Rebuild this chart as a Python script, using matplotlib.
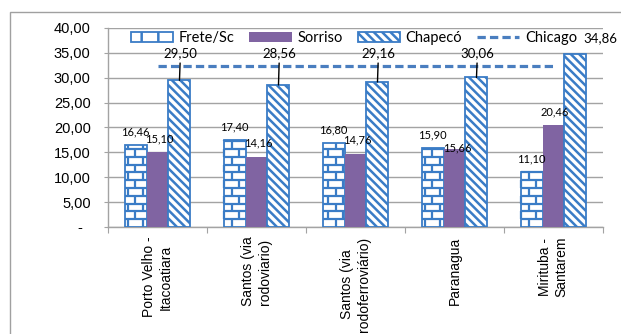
import matplotlib
matplotlib.use('Agg')
import matplotlib.pyplot as plt
import numpy as np
from matplotlib.patches import Rectangle, Patch
from matplotlib.lines import Line2D
from matplotlib.collections import LineCollection
from matplotlib.ticker import FuncFormatter

# ---------------- data ----------------
categories = ["Porto Velho -\nItacoatiara", "Santos (via\nrodoviario)",
              "Santos (via\nrodoferroviário)", "Paranagua", "Mirituba -\nSantarem"]
frete = [16.46, 17.40, 16.80, 15.90, 11.10]
sorriso = [15.10, 14.16, 14.76, 15.66, 20.46]
chapeco = [29.50, 28.56, 29.16, 30.06, 34.86]
chicago = [32.30, 32.30, 32.30, 32.30, 32.30]
series_names = ["Frete/Sc", "Sorriso", "Chapecó", "Chicago"]
yticks = [0, 5, 10, 15, 20, 25, 30, 35, 40]

# ---------------- style ----------------
BLUE = '#3A7CC6'
LINEBLUE = '#4A7EBF'
PURPLE = '#8064A2'
GRID = '#A3A3A3'
LABEL_FONT = ['Lato', 'DejaVu Sans']
AXIS_FONT = ['Liberation Sans', 'DejaVu Sans']

plt.rcParams['hatch.linewidth'] = 1.8
plt.rcParams['font.family'] = AXIS_FONT

W, H = 621, 334
fig = plt.figure(figsize=(W / 100, H / 100), dpi=100)
ax = fig.add_axes([108 / W, 1 - 227 / H, 495 / W, 199 / H])

x = np.arange(len(categories))
w = 0.222

b1 = ax.bar(x - w, frete, w, facecolor='white', edgecolor=BLUE, linewidth=1.3, zorder=3)
b2 = ax.bar(x, sorriso, w, color=PURPLE, linewidth=0, zorder=3)
b3 = ax.bar(x + w, chapeco, w, facecolor='white', edgecolor=BLUE, hatch='\\\\\\\\',
            linewidth=1.3, zorder=3)

# brick pattern for Frete/Sc bars (decoration clipped to each bar)
bw, bh = 0.15, 1.57
for r in b1:
    x0, y0 = r.get_x(), r.get_y()
    wd, ht = r.get_width(), r.get_height()
    segs = []
    nrows = int(np.ceil(ht / bh))
    for j in range(nrows):
        yb = y0 + j * bh
        yt = min(yb + bh, y0 + ht)
        if j > 0:
            segs.append([(x0, yb), (x0 + wd, yb)])
        off = (j % 2) * bw / 2
        k0 = np.floor((x0 - off) / bw)
        for k in range(int(k0), int(k0 + wd / bw + 3)):
            xv = off + k * bw
            if x0 + 0.005 < xv < x0 + wd - 0.005:
                segs.append([(xv, yb), (xv, yt)])
    lc = LineCollection(segs, colors=BLUE, linewidths=1.6, zorder=3.5)
    lc.set_clip_path(r)
    ax.add_collection(lc)

# Chicago line
ax.plot(x, chicago, color=LINEBLUE, lw=2.3, dashes=(2.6, 1.3), zorder=4)


def fmt(v):
    return f"{v:.2f}".replace('.', ',')


for xi, v in zip(x - w, frete):
    ax.annotate(fmt(v), (xi, v), xytext=(0, 9.5), textcoords='offset points',
                ha='center', va='center', fontsize=8, family=LABEL_FONT, zorder=6)
for xi, v, f in zip(x, sorriso, frete):
    # when the neighbouring label would collide, the label sits at the bar top
    dy = 0.5 if abs(v - f) < 0.5 else 9.5
    dx = 0.03 if abs(v - f) < 0.5 else 0.015
    ax.annotate(fmt(v), (xi + dx, v), xytext=(0, dy), textcoords='offset points',
                ha='center', va='center', fontsize=8, family=LABEL_FONT, zorder=6)
for xi, v, c in zip(x + w, chapeco, chicago):
    if v < c:
        ax.annotate(fmt(v), xy=(xi, v), xytext=(xi + 0.01, 35.0), textcoords='data',
                    ha='center', va='center', fontsize=9.5, family=LABEL_FONT, zorder=6,
                    arrowprops=dict(arrowstyle='-', color='black', lw=1.0,
                                    shrinkA=1, shrinkB=0))
    else:
        ax.annotate(fmt(v), xy=(xi, v), xytext=(xi + 0.255, 38.0), textcoords='data',
                    ha='center', va='center', fontsize=9.5, family=LABEL_FONT, zorder=6,
                    annotation_clip=False)

# axes
ax.set_xlim(-0.5, len(categories) - 0.5)
ax.set_ylim(yticks[0], yticks[-1])
ax.set_yticks(yticks)
ax.yaxis.set_major_formatter(FuncFormatter(lambda v, p: '-  ' if v == 0 else fmt(v)))
ax.tick_params(axis='y', length=3, color=GRID, pad=9.5, labelsize=10.5)
ax.yaxis.grid(True, color=GRID, lw=1.0)
ax.set_axisbelow(True)

ax.set_xticks(np.arange(-0.5, len(categories), 1.0))
ax.tick_params(axis='x', which='major', length=4, color=GRID, labelbottom=False)
ax.set_xticks(x, minor=True)
ax.set_xticklabels(categories, minor=True, rotation=90, fontsize=10)
ax.tick_params(axis='x', which='minor', length=0, pad=7)

for s in ['top', 'right']:
    ax.spines[s].set_visible(False)
for s in ['left', 'bottom']:
    ax.spines[s].set_color(GRID)
    ax.spines[s].set_linewidth(1.0)

# outer chart border
fig.patches.append(Rectangle((10 / W, -0.1), 1.0, (1 - 12 / H) + 0.1,
                             transform=fig.transFigure, fill=False,
                             edgecolor='#A0A0A0', lw=1.0))

handles = [Patch(facecolor='white', edgecolor=BLUE, hatch='|', lw=1.3),
           Patch(facecolor=PURPLE, lw=0),
           Patch(facecolor='white', edgecolor=BLUE, hatch='\\\\\\\\', lw=1.3),
           Line2D([], [], color=LINEBLUE, lw=2.3, dashes=(2.6, 1.3))]
fig.legend(handles, series_names, loc='center', bbox_to_anchor=(354 / W, 1 - 38 / H),
           ncol=4, frameon=False, prop={'family': LABEL_FONT, 'size': 10.5},
           handlelength=2.9, handleheight=0.65, handletextpad=0.4,
           columnspacing=1.0, borderpad=0, borderaxespad=0)

fig.savefig('out.png', dpi=100)
